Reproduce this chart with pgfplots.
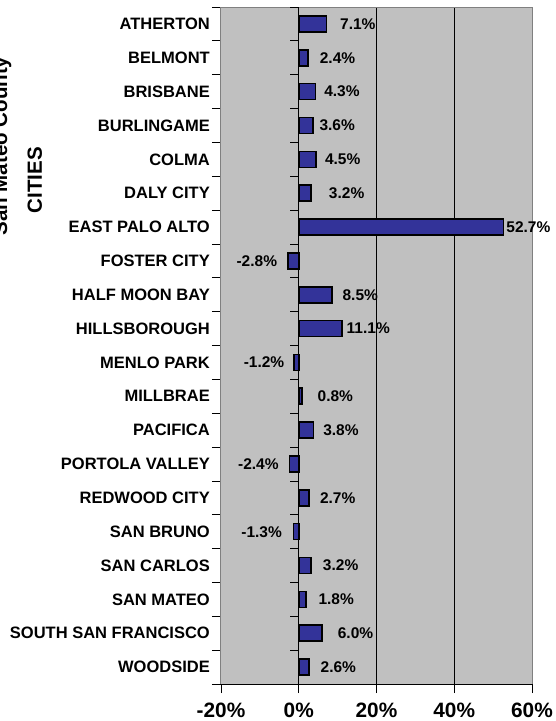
\documentclass[border=0pt]{standalone}
\usepackage{fontspec}
\setmainfont{Liberation Sans}
\usepackage{pgfplots}
\pgfplotsset{compat=1.18}
\usepackage{pgfplotstable}
\definecolor{barblue}{HTML}{333399}
\definecolor{bggray}{HTML}{C0C0C0}
\definecolor{framegray}{HTML}{808080}
\pgfplotstableread{
idx val dx
0 7.1 13
1 2.4 11
2 4.3 8
3 3.6 6
4 4.5 8
5 3.2 17
6 52.7 2
7 -2.8 -10
8 8.5 10
9 11.1 4
10 -1.2 -9
11 0.8 15
12 3.8 9
13 -2.4 -10
14 2.7 10
15 -1.3 -11
16 3.2 11
17 1.8 12
18 6.0 15
19 2.6 11
}\datatable
\begin{document}
\begin{tikzpicture}[x=1pt,y=1pt]
\begin{axis}[
  at={(221pt,37pt)}, anchor=south west,
  scale only axis, width=311pt, height=677pt,
  clip=false,
  xmin=-20, xmax=60, ymin=-0.5, ymax=19.5, y dir=reverse,
  /pgf/number format/assume math mode=true,
  axis background/.style={fill=bggray},
  axis line style={draw=none},
  xtick={-20,0,20,40,60},
  xticklabels={-20\%,0\%,20\%,40\%,60\%},
  ytick={0,...,19},
  yticklabels={ATHERTON,BELMONT,BRISBANE,BURLINGAME,COLMA,DALY CITY,EAST PALO ALTO,FOSTER CITY,HALF MOON BAY,HILLSBOROUGH,MENLO PARK,MILLBRAE,PACIFICA,PORTOLA VALLEY,REDWOOD CITY,SAN BRUNO,SAN CARLOS,SAN MATEO,SOUTH SAN FRANCISCO,WOODSIDE},
  minor ytick={-0.5,0.5,...,19.5},
  xtick pos=bottom, ytick pos=left,
  tick align=outside,
  major tick length=9pt, minor tick length=9pt,
  major y tick style={draw=none},
  tick style={black, line width=0.8pt},
  xticklabel style={font=\fontsize{20.8}{24}\selectfont\bfseries, anchor=base, inner sep=0pt, yshift=-24pt},
  yticklabel style={font=\fontsize{16.5}{19}\selectfont\bfseries, anchor=east, inner sep=0pt, xshift=-2pt},
]
\draw[black, line width=0.8pt] (axis cs:20,-0.5) -- (axis cs:20,19.5);
\draw[black, line width=0.8pt] (axis cs:40,-0.5) -- (axis cs:40,19.5);
\draw[framegray, line width=1pt] (axis cs:-20,19.5) -- (axis cs:-20,-0.5) -- (axis cs:60,-0.5) -- (axis cs:60,19.5);
\addplot[xbar, bar width=16pt, fill=barblue, draw=black, line width=1.6pt,
  point meta=x,
  visualization depends on={\thisrow{dx} \as \dx},
  nodes near coords={\pgfmathprintnumber[fixed,fixed zerofill,precision=1]{\pgfplotspointmeta}\%},
  nodes near coords style={font=\fontsize{15.5}{18}\selectfont\bfseries, inner sep=0pt, xshift=\dx pt, text=black},
] table[x=val, y=idx] {\datatable};
\draw[black, line width=1.2pt] (axis cs:0,-0.5) -- (axis cs:0,19.5);
\draw[black, line width=1pt] (axis cs:-20,19.5) -- (axis cs:60,19.5);
\pgfplotsinvokeforeach{-0.5,0.5,...,19.5}{\draw[black, line width=0.8pt] (axis cs:0,#1) -- ++(-9pt,0pt);}
\end{axis}
\node[rotate=90, anchor=base, font=\fontsize{20.5}{24}\selectfont\bfseries] at (7pt,575pt) {San Mateo County};
\node[rotate=90, anchor=base, font=\fontsize{20.5}{24}\selectfont\bfseries] at (42pt,541pt) {CITIES};
\pgfresetboundingbox
\path[use as bounding box] (0pt,0pt) rectangle (555pt,721pt);
\end{tikzpicture}
\end{document}
